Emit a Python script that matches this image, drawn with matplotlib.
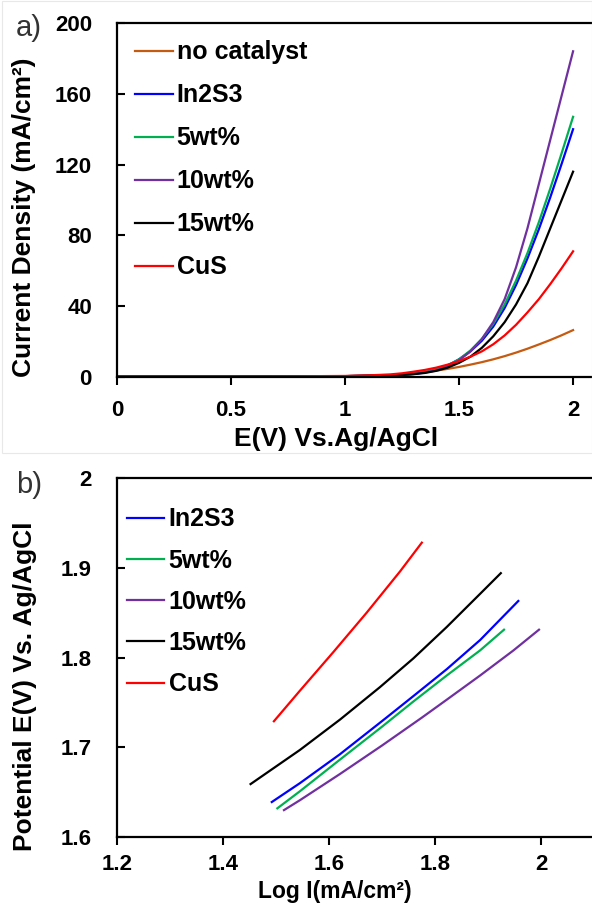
import numpy as np
import matplotlib
matplotlib.use("Agg")
import matplotlib.pyplot as plt
from matplotlib.patches import Rectangle

plt.rcParams['font.family'] = ['Liberation Sans', 'DejaVu Sans']
plt.rcParams['font.weight'] = 'bold'

# LSV curves: current density (mA/cm2) vs potential E (V vs Ag/AgCl)
E = [0, 0.5, 1.0, 1.1, 1.2, 1.25, 1.3, 1.35, 1.4, 1.45, 1.5, 1.55, 1.6, 1.65,
     1.7, 1.75, 1.8, 1.85, 1.9, 1.95, 2.0]
j_nocat = [0.2, 0.2, 0.5, 0.7, 1.1, 1.5, 2.0, 2.7, 3.6, 4.6, 5.7, 7.0, 8.4, 10,
           11.8, 13.8, 16, 18.4, 20.9, 23.6, 26.5]
j_in2s3 = [0.2, 0.2, 0.5, 0.7, 1.0, 1.3, 1.8, 2.7, 4.2, 6.5, 10, 14.5, 20.5, 28.5,
           39, 52, 67, 83.5, 101.5, 120.5, 140]
j_5wt = [0.2, 0.2, 0.5, 0.7, 1.0, 1.3, 1.8, 2.7, 4.2, 6.5, 10, 15, 21.5, 30,
         41, 54.5, 70, 87.5, 106.5, 126.5, 147]
j_10wt = [0.2, 0.2, 0.5, 0.7, 1.0, 1.2, 1.7, 2.5, 3.8, 6.0, 9.5, 14.5, 21.5, 31,
          44, 62, 84, 109, 134, 159, 184]
j_15wt = [0.2, 0.2, 0.5, 0.7, 1.0, 1.2, 1.6, 2.3, 3.5, 5.3, 8.0, 11.5, 16.5, 23,
          31, 41, 53, 68, 84, 100, 116]
j_cus = [0.2, 0.2, 0.6, 0.9, 1.5, 2.1, 3.0, 4.0, 5.3, 7.0, 9.0, 11.5, 14.5, 18.5,
         23.5, 29.5, 36.5, 44, 52.5, 61.5, 71]

# Tafel plots: potential vs log current density
log_in2s3 = [1.492, 1.545, 1.62, 1.706, 1.759, 1.822, 1.885, 1.957]
v_in2s3 = [1.639, 1.660, 1.692, 1.732, 1.757, 1.787, 1.8195, 1.863]
log_5wt = [1.5025, 1.545, 1.62, 1.70, 1.759, 1.822, 1.885, 1.930]
v_5wt = [1.632, 1.651, 1.686, 1.723, 1.751, 1.780, 1.808, 1.831]
log_10wt = [1.515, 1.545, 1.62, 1.70, 1.775, 1.822, 1.885, 1.948, 1.996]
v_10wt = [1.630, 1.641, 1.670, 1.702, 1.733, 1.753, 1.780, 1.808, 1.831]
log_15wt = [1.452, 1.545, 1.621, 1.696, 1.759, 1.822, 1.885, 1.924]
v_15wt = [1.659, 1.697, 1.731, 1.767, 1.799, 1.834, 1.871, 1.894]
log_cus = [1.496, 1.545, 1.608, 1.671, 1.734, 1.775]
v_cus = [1.729, 1.763, 1.806, 1.850, 1.896, 1.928]

top_labels = ['no catalyst', 'In2S3', '5wt%', '10wt%', '15wt%', 'CuS']
top_colors = ['#C55A11', '#0000FF', '#00B050', '#7030A0', '#000000', '#FF0000']

fig = plt.figure(figsize=(5.92, 9.05), dpi=100)

# light chart-area border around panel a
fig.patches.append(Rectangle((0.003, 0.499), 0.997, 0.50, transform=fig.transFigure,
                             fill=False, edgecolor='#e8e8e8', lw=0.8))

ax1 = fig.add_axes([0.1976, 0.5834, 0.8024, 0.3912])
ax2 = fig.add_axes([0.1976, 0.0751, 0.8024, 0.3967])

for y, lab, c in zip([j_nocat, j_in2s3, j_5wt, j_10wt, j_15wt, j_cus], top_labels, top_colors):
    ax1.plot(E, y, color=c, lw=1.6, label=lab)

bottom = [(log_in2s3, v_in2s3), (log_5wt, v_5wt), (log_10wt, v_10wt),
          (log_15wt, v_15wt), (log_cus, v_cus)]
for (x, y), lab, c in zip(bottom, top_labels[1:], top_colors[1:]):
    ax2.plot(x, y, color=c, lw=1.6, label=lab)

ax1.set_xlim(0, 2.083)
ax1.set_ylim(0, 200)
ax1.set_xticks([0, 0.5, 1, 1.5, 2])
ax1.set_xticklabels(['0', '0.5', '1', '1.5', '2'])
ax1.set_yticks([0, 40, 80, 120, 160, 200])
ax1.set_xlabel('E(V) Vs.Ag/AgCl', fontsize=19, fontweight='bold')
ax1.xaxis.set_label_coords(0.461, -0.141)
ax1.set_ylabel('Current Density (mA/cm²)', fontsize=19, fontweight='bold')
ax1.yaxis.set_label_coords(-0.17, 0.452)

ax2.set_xlim(1.2, 2.096)
ax2.set_ylim(1.6, 2.0)
ax2.set_xticks([1.2, 1.4, 1.6, 1.8, 2.0])
ax2.set_xticklabels(['1.2', '1.4', '1.6', '1.8', '2'])
ax2.set_yticks([1.6, 1.7, 1.8, 1.9, 2.0])
ax2.set_yticklabels(['1.6', '1.7', '1.8', '1.9', '2'])
ax2.set_xlabel('Log I(mA/cm²)', fontsize=16.5, fontweight='bold')
ax2.xaxis.set_label_coords(0.459, -0.119)
ax2.set_ylabel('Potential E(V) Vs. Ag/AgCl', fontsize=19, fontweight='bold')
ax2.yaxis.set_label_coords(-0.168, 0.42)

for ax in (ax1, ax2):
    ax.spines['right'].set_visible(False)
    for s in ('left', 'bottom', 'top'):
        ax.spines[s].set_linewidth(1.6)
    ax.tick_params(axis='y', direction='in', length=5.5, width=1.5, pad=18, labelsize=16)
    ax.tick_params(axis='x', direction='out', length=5.5, width=1.5, pad=11, labelsize=16)
    for t in ax.get_xticklabels() + ax.get_yticklabels():
        t.set_fontweight('bold')
ax2.tick_params(axis='x', pad=7)

ax1.legend(loc='upper left', bbox_to_anchor=(0.038, 0.951), frameon=False,
           prop={'size': 18, 'weight': 'bold'}, handlelength=1.5, handletextpad=0.17,
           labelspacing=0.76, borderpad=0, borderaxespad=0)
ax2.legend(loc='upper left', bbox_to_anchor=(0.021, 0.918), frameon=False,
           prop={'size': 18, 'weight': 'bold'}, handlelength=1.5, handletextpad=0.17,
           labelspacing=0.69, borderpad=0, borderaxespad=0)

fig.text(0.026, 0.969, 'a)', fontsize=21, fontweight='normal', color='#333333', va='center')
fig.text(0.027, 0.464, 'b)', fontsize=21, fontweight='normal', color='#333333', va='center')

fig.savefig('out.png', dpi=100)
